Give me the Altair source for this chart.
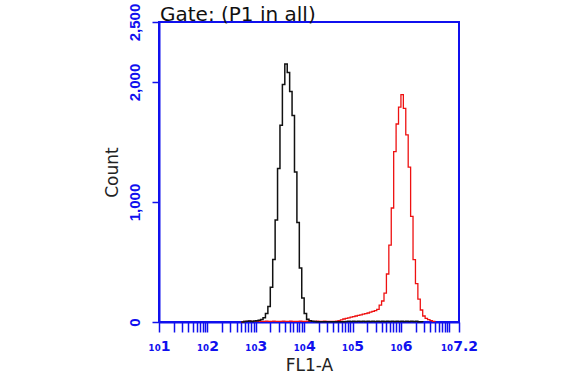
import altair as alt
import pandas as pd

# ---- data (log10 bin left edges start + step, counts per bin) ----
BIN_STEP = 0.05
black_start = 2.70
black_counts = [0, 4, 6, 8, 5, 9, 11, 14, 20, 35, 70, 130, 290, 520, 850, 1280, 1640, 1980,
                2150, 2080, 1920, 1720, 1250, 830, 450, 200, 70, 22, 10, 6, 4,
                3, 2, 3, 2, 3, 2, 3, 2, 3, 2, 3, 2,
                5, 6, 4, 6, 5, 7, 5, 6, 4, 6, 5, 7, 5, 6, 4, 6, 5, 7, 5, 6, 4, 6, 5, 7, 5, 6, 4, 6, 5, 6, 3, 2,
                0]
red_start = 2.70
red_counts = [0, 5, 6, 7, 6, 5, 7, 6, 5, 6, 7, 6, 5, 7, 6, 5, 6, 7, 6, 5, 7, 6, 5, 6, 7, 6, 5, 7, 6, 5, 6,
              7, 6, 5, 7, 6, 5, 6,
              5, 8, 12, 18, 25, 30, 35, 40, 44, 50, 55, 60, 65, 70, 75, 82, 88, 95, 105, 140, 175, 240,
              400, 640, 950, 1420, 1650, 1790, 1895, 1780, 1560, 1290, 880, 520, 320, 190, 100, 50, 30,
              20, 12, 5, 0]

x_major_exp = [1, 2, 3, 4, 5, 6, 7]
x_end_exp = 7.2
x_minor_mult = [2, 3, 4, 5, 6, 7, 8, 9]
y_ticks = [0, 1000, 2000, 2500]
title_text = ["Gate: (P1 in all)"]

BLUE = "#1010ee"


def frame(start, counts):
    return pd.DataFrame({
        "fl": [10 ** (start + i * BIN_STEP) for i in range(len(counts))],
        "count": counts,
    })


black_df = frame(black_start, black_counts)
red_df = frame(red_start, red_counts)

x_values = [10 ** e for e in x_major_exp]
x_values += [m * 10 ** e for e in x_major_exp[:-1] for m in x_minor_mult]
x_values += [10 ** x_end_exp]

x_scale = alt.Scale(type="log", domain=[10, 10 ** x_end_exp], nice=False)
y_scale = alt.Scale(domain=[0, 2500], nice=False)

label_expr = ("((abs(log(datum.value)/LN10 - round(log(datum.value)/LN10)) < 0.001 && datum.value < 5e6)"
              " || datum.value > 1.1e7)"
              " ? '\u2081\u2080' + format(log(datum.value)/LN10, '.1~f') : ''")

x_axis = alt.Axis(values=x_values, labelExpr=label_expr, grid=False, tickSize=10,
                  tickColor=BLUE, tickWidth=1.5, domainColor=BLUE, domainWidth=2,
                  labelColor=BLUE, labelFontSize=14, labelFontWeight="bold", labelPadding=7,
                  labelOverlap=False, labelFlush=False, labelFont="DejaVu Sans",
                  title="FL1-A", titleFontSize=17, titleFontWeight="normal", titleColor="#222",
                  titleFont="DejaVu Sans", titlePadding=4)
y_axis = alt.Axis(values=y_ticks, labelExpr="format(datum.value, ',d')", grid=False, tickSize=7,
                  tickColor=BLUE, tickWidth=1.5,
                  domainColor=BLUE, domainWidth=2, labelColor=BLUE, labelFontSize=15,
                  labelFontWeight="bold", labelAngle=-90, labelPadding=10, labelFont="Liberation Sans",
                  title="Count", titleFontSize=17, titleFontWeight="normal", titleColor="#222",
                  titleFont="DejaVu Sans", titlePadding=6)

red = alt.Chart(red_df).mark_line(interpolate="step-after", color="#ee1111", strokeWidth=1.3).encode(
    x=alt.X("fl:Q", scale=x_scale, axis=x_axis),
    y=alt.Y("count:Q", scale=y_scale, axis=y_axis),
)
black = alt.Chart(black_df).mark_line(interpolate="step-after", color="#111111", strokeWidth=1.5).encode(
    x=alt.X("fl:Q", scale=x_scale, axis=x_axis),
    y=alt.Y("count:Q", scale=y_scale, axis=y_axis),
)
title = alt.Chart(pd.DataFrame({"t": title_text})).mark_text(
    align="left", baseline="alphabetic", fontSize=20, font="DejaVu Sans", color="#111"
).encode(x=alt.value(1), y=alt.value(-1), text="t:N")

chart = alt.layer(red, black, title).properties(
    width=300, height=300, autosize="none", background="white",
    padding={"left": 159, "top": 22, "right": 123, "bottom": 56},
).configure_view(stroke=BLUE, strokeWidth=2)

chart.save("out.html", embed_options={"renderer": "svg", "actions": False})
